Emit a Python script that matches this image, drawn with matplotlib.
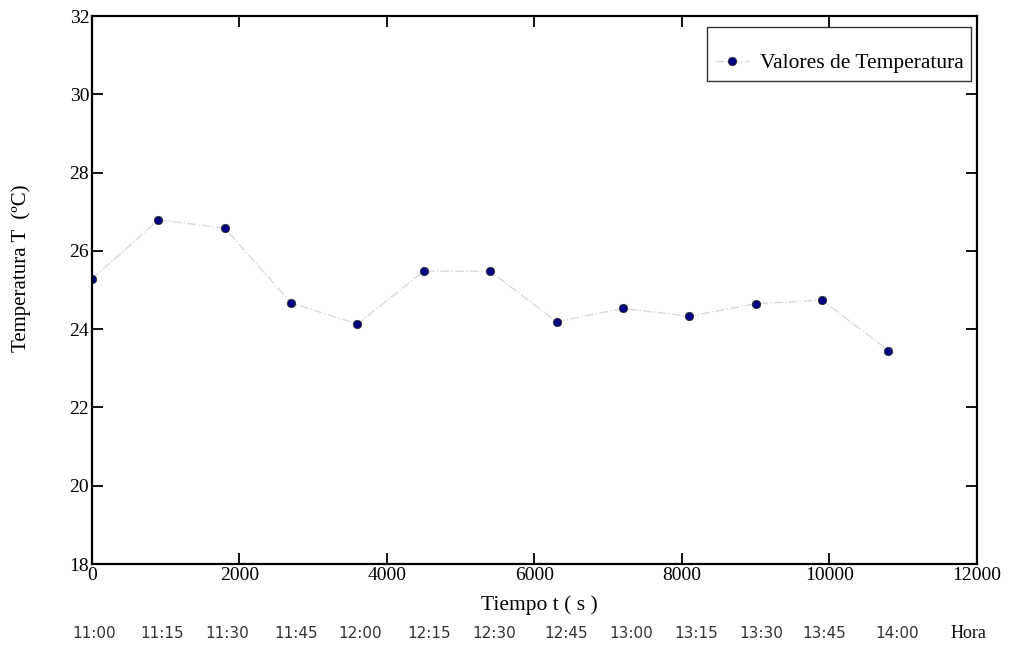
import matplotlib
matplotlib.use("Agg")
import matplotlib.pyplot as plt

# data
tiempo_s = [0, 900, 1800, 2700, 3600, 4500, 5400, 6300, 7200, 8100, 9000, 9900, 10800]
temperatura = [25.28, 26.79, 26.58, 24.67, 24.13, 25.48, 25.48, 24.19, 24.53, 24.33, 24.65, 24.74, 23.45]
horas = ["11:00", "11:15", "11:30", "11:45", "12:00", "12:15", "12:30",
         "12:45", "13:00", "13:15", "13:30", "13:45", "14:00", "Hora"]
xticks = [0, 2000, 4000, 6000, 8000, 10000, 12000]
yticks = [18, 20, 22, 24, 26, 28, 30, 32]

W, H = 1012, 646
plt.rcParams['font.family'] = ['Liberation Serif', 'DejaVu Serif']
fig = plt.figure(figsize=(W / 100, H / 100), dpi=100)
L, R, T, B = 92, 977, 16, 564
ax = fig.add_axes([L / W, 1 - B / H, (R - L) / W, (B - T) / H])

ax.plot(tiempo_s, temperatura, linestyle='-.', color='#d9d9d9', linewidth=1.0,
        marker='o', markersize=6, markerfacecolor='#00007f',
        markeredgecolor='#333333', markeredgewidth=0.6,
        label='Valores de Temperatura')

ax.set_xlim(0, 12000)
ax.set_ylim(18, 32)
ax.set_xticks(xticks)
ax.set_yticks(yticks)
ax.tick_params(direction='in', length=8, width=1.3, top=True, right=True,
               labelsize=14, pad=2)
for s in ax.spines.values():
    s.set_linewidth(1.6)

ax.set_xlabel('Tiempo t ( s )', fontsize=15.5)
ax.xaxis.set_label_coords((539 - L) / (R - L), (B - 595) / (B - T))
ax.set_ylabel('Temperatura T  (ºC)', fontsize=15)
ax.yaxis.set_label_coords((31 - L) / (R - L), (B - 268) / (B - T))

leg = ax.legend(loc='upper right', fontsize=15.5, frameon=True, fancybox=False,
                edgecolor='black', handlelength=1.6, handletextpad=0.5,
                borderpad=0.35, borderaxespad=0.0, title=' ', title_fontsize=6,
                bbox_to_anchor=((971 - L) / (R - L), (B - 27) / (B - T)))
leg.get_frame().set_linewidth(1.0)

# hour labels below the axis (layout positions in pixels)
hora_x_px = [94, 162, 227, 296, 360, 429, 494, 566, 631, 696, 761, 824, 897, 968]
for lbl, xp in zip(horas, hora_x_px):
    if lbl == 'Hora':
        fig.text(xp / W, 1 - 633 / H, lbl, ha='center', va='center', fontsize=13,
                 family=['Liberation Serif'], color='#111111')
    else:
        fig.text(xp / W, 1 - 633 / H, lbl, ha='center', va='center', fontsize=11,
                 family=['DejaVu Sans'], color='#333333')

fig.savefig('out.png', dpi=100)
